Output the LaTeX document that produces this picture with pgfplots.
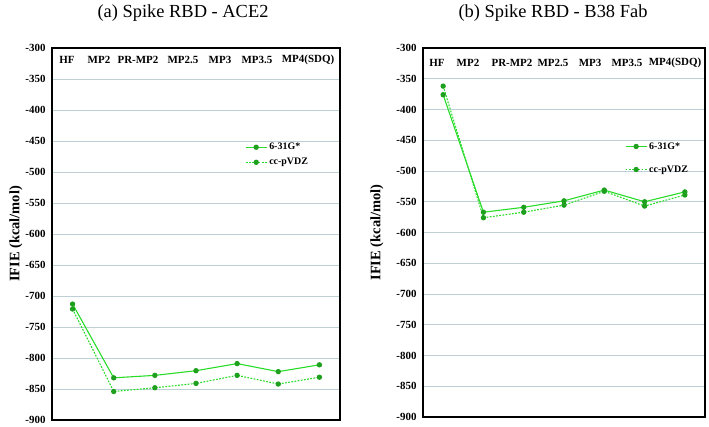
\documentclass[border=0pt]{standalone}
\usepackage{pgfplots}
\pgfplotsset{compat=1.18}
\usepackage{fontspec}
\setmainfont{Liberation Serif}
\definecolor{lgreen}{RGB}{40,220,40}
\definecolor{mgreen}{RGB}{30,160,30}
\definecolor{gridc}{RGB}{190,208,214}
\pgfplotsset{
  ifie/.style={
    scale only axis,
    xmin=-0.5, xmax=6.5,
    ymin=-900, ymax=-300,
    ytick={-900,-850,...,-300},
    xtick={0,...,6},
    xticklabels={},
    major tick length=0pt,
    yticklabel style={font=\bfseries\fontsize{11}{11}\selectfont, xshift=-3bp},
    /pgf/number format/assume math mode=true,
    /pgf/number format/1000 sep={},
    ymajorgrids,
    grid style={gridc, line width=0.9bp},
    axis line style={black, line width=1.6bp},
    ylabel={\bfseries IFIE (kcal/mol)},
    legend cell align=left,
    legend style={draw=none, fill=none, font=\bfseries\fontsize{10}{10}\selectfont, anchor=north west, inner sep=0pt},
    legend image code/.code={\draw[mark repeat=2, mark phase=2, #1] plot coordinates {(0bp,0bp) (10.5bp,0bp) (21bp,0bp)};},
  },
  s631/.style={lgreen, line width=1.1bp, mark=*, mark size=2.1bp, mark options={fill=mgreen, draw=mgreen, solid}},
  scc/.style={lgreen, line width=1.1bp, dash pattern=on 1.8bp off 1.4bp, mark=*, mark size=2.1bp, mark options={fill=mgreen, draw=mgreen, solid}},
}
\begin{document}
\begin{tikzpicture}[x=1bp,y=1bp]
\useasboundingbox (0,0) rectangle (709,426);
\node[font=\fontsize{18.5}{18.5}\selectfont] at (183,413) {(a) Spike RBD - ACE2};
\node[font=\fontsize{18.5}{18.5}\selectfont] at (553,413) {(b) Spike RBD - B38 Fab};
\begin{axis}[ifie, at={(52bp,6bp)}, anchor=south west, width=288bp, height=372bp,
  every axis y label/.style={at={([xshift=-36bp]rel axis cs:0,0.5)}, rotate=90, anchor=center, font=\fontsize{14.5}{14.5}\selectfont},
  legend style={at={(0.67,0.75)}, row sep=3bp}]
\addplot[s631] coordinates {(0,-713) (1,-832) (2,-828) (3,-820.5) (4,-809) (5,-822) (6,-811)};
\addlegendentry{6-31G*}
\addplot[scc] coordinates {(0,-721) (1,-854) (2,-848) (3,-841) (4,-828) (5,-842) (6,-831)};
\addlegendentry{cc-pVDZ}
\end{axis}
\begin{axis}[ifie, at={(423bp,9bp)}, anchor=south west, width=282bp, height=369bp,
  every axis y label/.style={at={([xshift=-46bp]rel axis cs:0,0.5)}, rotate=90, anchor=center, font=\fontsize{14.5}{14.5}\selectfont},
  legend style={at={(0.716,0.75)}, row sep=11bp}]
\addplot[s631] coordinates {(0,-376) (1,-567) (2,-559) (3,-548.5) (4,-531) (5,-550) (6,-534)};
\addlegendentry{6-31G*}
\addplot[scc] coordinates {(0,-362) (1,-576) (2,-567) (3,-555.5) (4,-533) (5,-557) (6,-539)};
\addlegendentry{cc-pVDZ}
\end{axis}
\begin{scope}[every node/.style={font=\bfseries\fontsize{11}{11}\selectfont}]
\node at (67,366) {HF};
\node at (99,366) {MP2};
\node at (138,366) {PR-MP2};
\node at (183,366) {MP2.5};
\node at (220,366) {MP3};
\node at (257,366) {MP3.5};
\node at (308,366) {MP4(SDQ)};
\node at (437,363) {HF};
\node at (468,363) {MP2};
\node at (512,363) {PR-MP2};
\node at (553,363) {MP2.5};
\node at (590,363) {MP3};
\node at (627,363) {MP3.5};
\node at (675,363) {MP4(SDQ)};
\end{scope}
\end{tikzpicture}
\end{document}
